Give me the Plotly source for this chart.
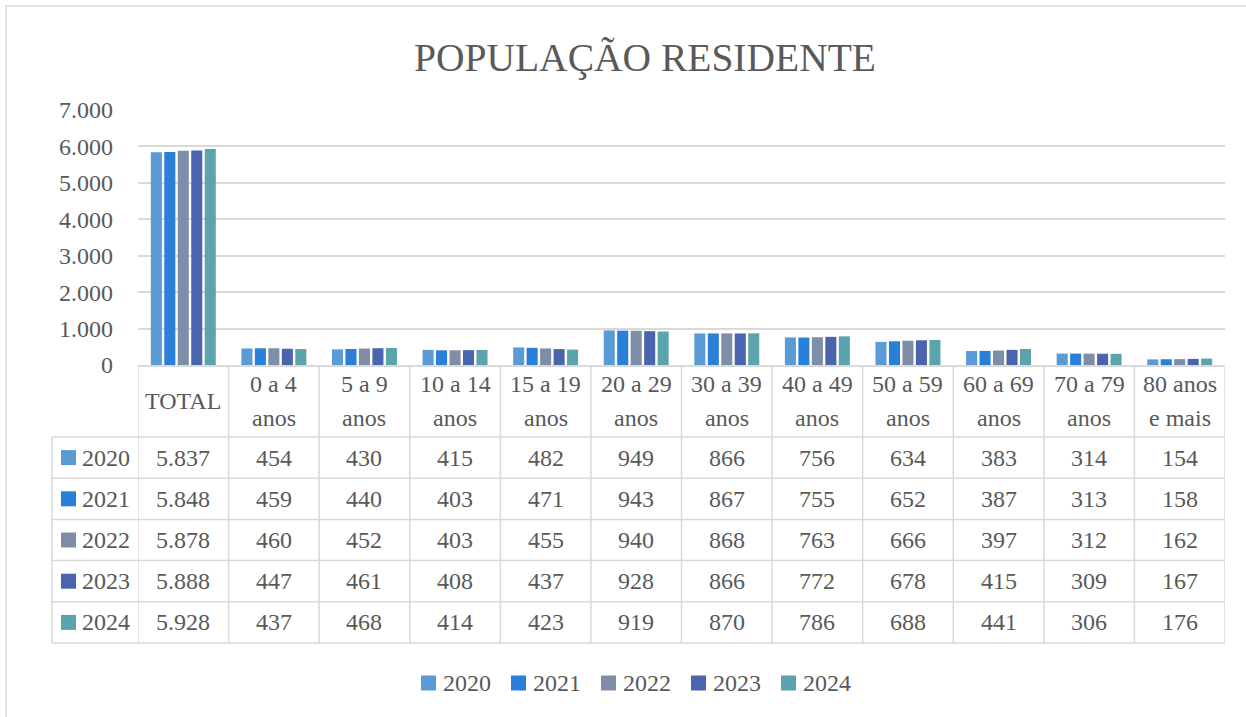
import plotly.graph_objects as go

# ---------------- data ----------------
categories = ["TOTAL", "0 a 4\nanos", "5 a 9\nanos", "10 a 14\nanos", "15 a 19\nanos",
              "20 a 29\nanos", "30 a 39\nanos", "40 a 49\nanos", "50 a 59\nanos",
              "60 a 69\nanos", "70 a 79\nanos", "80 anos\ne mais"]
years = ["2020", "2021", "2022", "2023", "2024"]
v2020 = [5837, 454, 430, 415, 482, 949, 866, 756, 634, 383, 314, 154]
v2021 = [5848, 459, 440, 403, 471, 943, 867, 755, 652, 387, 313, 158]
v2022 = [5878, 460, 452, 403, 455, 940, 868, 763, 666, 397, 312, 162]
v2023 = [5888, 447, 461, 408, 437, 928, 866, 772, 678, 415, 309, 167]
v2024 = [5928, 437, 468, 414, 423, 919, 870, 786, 688, 441, 306, 176]
series = [v2020, v2021, v2022, v2023, v2024]
y_ticks = [0, 1000, 2000, 3000, 4000, 5000, 6000, 7000]
title_text = "POPULAÇÃO RESIDENTE"

# ---------------- style ----------------
colors = ["#5B9BD5", "#2A7FD9", "#7F8EA8", "#4A64AD", "#5BA3AD"]
W, H = 1246, 717
FONT = "Liberation Serif"
FS = 24
TXT = "#595959"
GRID = "#D9D9D9"

def px(x):
    return x / W

def py(y):
    return 1 - y / H

plot_left, plot_right = 138, 1225
plot_top, plot_bottom = 110, 365
header_bottom = 437
row_h = (643 - 437) / 5
table_left = 52

fig = go.Figure()
for yr, vals, c in zip(years, series, colors):
    fig.add_trace(go.Bar(x=categories, y=vals, name=yr, marker=dict(color=c, line=dict(width=0)),
                         showlegend=False))

shapes = []
annotations = []

# outer chart border (top & left)
shapes.append(dict(type="rect", xref="paper", yref="paper", x0=px(6), x1=px(1250),
                   y0=py(722), y1=py(6), line=dict(color=GRID, width=1.5)))

# table horizontal lines
for k in range(6):
    yy = header_bottom + k * row_h
    shapes.append(dict(type="line", xref="paper", yref="paper", x0=px(table_left), x1=px(plot_right),
                       y0=py(yy), y1=py(yy), line=dict(color=GRID, width=1.5)))
# table left vertical
shapes.append(dict(type="line", xref="paper", yref="paper", x0=px(table_left), x1=px(table_left),
                   y0=py(header_bottom), y1=py(643), line=dict(color=GRID, width=1.5)))
# column separators in data coordinates
for i in range(len(categories) + 1):
    shapes.append(dict(type="line", xref="x", yref="paper", x0=i - 0.5, x1=i - 0.5,
                       y0=py(plot_bottom), y1=py(643), line=dict(color=GRID, width=1.5)))

# header labels
for cat in categories:
    lines = cat.split("\n")
    ys = [401] if len(lines) == 1 else [384, 418]
    for ln, yy in zip(lines, ys):
        annotations.append(dict(x=cat, y=py(yy), xref="x", yref="paper", text=ln, showarrow=False,
                                font=dict(family=FONT, size=FS, color=TXT), xanchor="center", yanchor="middle"))

# row headers and values
for r, (yr, vals, c) in enumerate(zip(years, series, colors)):
    yc = header_bottom + (r + 0.5) * row_h
    shapes.append(dict(type="rect", xref="paper", yref="paper", x0=px(61), x1=px(76),
                       y0=py(yc + 7.5), y1=py(yc - 7.5), fillcolor=c, line=dict(width=0)))
    annotations.append(dict(x=px(80), y=py(yc), xref="paper", yref="paper", text=yr, showarrow=False,
                            font=dict(family=FONT, size=FS, color=TXT), xanchor="left", yanchor="middle"))
    for cat, v in zip(categories, vals):
        annotations.append(dict(x=cat, y=py(yc), xref="x", yref="paper",
                                text=f"{v:,}".replace(",", "."), showarrow=False,
                                font=dict(family=FONT, size=FS, color=TXT),
                                xanchor="center", yanchor="middle"))

# legend (drawn manually)
leg_y = 683
for k, (yr, c) in enumerate(zip(years, colors)):
    x0 = 421 + 90 * k
    shapes.append(dict(type="rect", xref="paper", yref="paper", x0=px(x0), x1=px(x0 + 15),
                       y0=py(leg_y + 7.5), y1=py(leg_y - 7.5), fillcolor=c, line=dict(width=0)))
    annotations.append(dict(x=px(x0 + 20), y=py(leg_y), xref="paper", yref="paper", text=yr,
                            showarrow=False, font=dict(family=FONT, size=FS, color=TXT),
                            xanchor="left", yanchor="middle"))

# title
annotations.append(dict(x=px(645), y=py(58), xref="paper", yref="paper", text=title_text,
                        showarrow=False, font=dict(family=FONT, size=39.5, color=TXT),
                        xanchor="center", yanchor="middle"))

fig.update_layout(
    width=W, height=H,
    margin=dict(l=0, r=0, t=0, b=0, autoexpand=False),
    paper_bgcolor="white", plot_bgcolor="white",
    separators=",.",
    barmode="group", bargap=0.256, bargroupgap=0.18,
    showlegend=False,
    xaxis=dict(domain=[px(plot_left), px(plot_right)], showticklabels=False, showgrid=False,
               showline=True, linecolor=GRID, linewidth=1.5, ticks="", zeroline=False,
               range=[-0.5, len(categories) - 0.5], fixedrange=True),
    yaxis=dict(domain=[py(plot_bottom), py(plot_top)], range=[0, 7000], tickvals=y_ticks,
               tickformat=",d", showgrid=True, gridcolor=GRID, gridwidth=1.5, zeroline=False,
               showline=False, ticks="", ticklabelstandoff=24, automargin=False,
               tickfont=dict(family=FONT, size=FS, color=TXT)),
    shapes=shapes, annotations=annotations,
)

fig.write_html("out.html", config={"displayModeBar": False},
               post_script="document.body.style.margin='0';")
